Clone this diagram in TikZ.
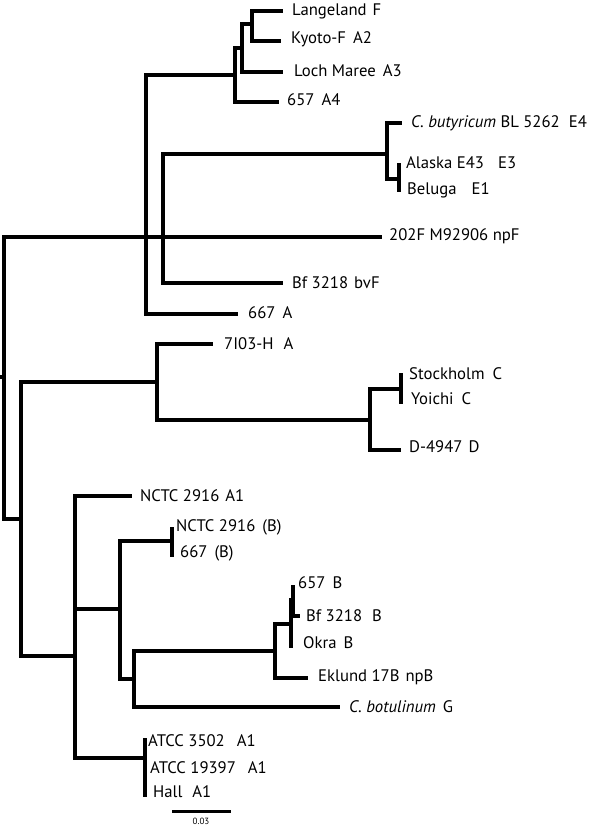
\documentclass[tikz,border=0pt]{standalone}
\usepackage{fontspec}
\setmainfont{PT Sans}
\newcommand\gp[1]{\hspace*{#1pt}}
\begin{document}
\begin{tikzpicture}[x=1pt,y=-1pt,
  br/.style={line width=3.2pt,line join=miter},
  lbl/.style={anchor=base west,inner sep=0pt,font=\fontsize{16.7}{18}\selectfont},
  sc/.style={anchor=base,inner sep=0pt,font=\fontsize{9}{10}\selectfont}]
\useasboundingbox (0,0) rectangle (600,825);
% internal nodes
\coordinate (r0) at (0,377);
\coordinate (R) at (4,377);
\coordinate (A) at (146,237);
\coordinate (a1) at (235,75);
\coordinate (a2) at (242,48);
\coordinate (a3) at (252,24);
\coordinate (E) at (163,237);
\coordinate (e1) at (387,154);
\coordinate (e2) at (399,179);
\coordinate (B) at (21,519);
\coordinate (CD) at (157,382);
\coordinate (cd1) at (370,420);
\coordinate (cd2) at (401,389);
\coordinate (F) at (75,656);
\coordinate (G) at (120,609);
\coordinate (g1) at (172,541);
\coordinate (H) at (134,679);
\coordinate (I) at (275,651);
\coordinate (J) at (291,624);
\coordinate (K) at (293,600);
\coordinate (at) at (145,758);
% tips
\coordinate (tLang) at (283,11);
\coordinate (tKyo) at (281,41);
\coordinate (tLoch) at (283,72);
\coordinate (t657A4) at (279,102);
\coordinate (tCbut) at (402,123);
\coordinate (tAla) at (399,163);
\coordinate (tBel) at (399,192);
\coordinate (t202) at (382,237);
\coordinate (tBfF) at (283,283);
\coordinate (t667A) at (238,314);
\coordinate (t7I03) at (213,344);
\coordinate (tSto) at (401,373);
\coordinate (tYoi) at (401,404);
\coordinate (tD) at (401,450);
\coordinate (tNA1) at (132,496);
\coordinate (tNB) at (172,527);
\coordinate (t667B) at (172,557);
\coordinate (t657B) at (293,585);
\coordinate (tBfB) at (300,616);
\coordinate (tOkra) at (291,648);
\coordinate (tEk) at (308,678);
\coordinate (tCbot) at (340,707);
\coordinate (tAT1) at (145,738);
\coordinate (tAT3) at (145,797);
\coordinate (s1) at (172,811);
\coordinate (s2) at (231,811);
% branches
\draw[br] (r0) -- (R);
\draw[br] (R) |- (A);
\draw[br] (R) |- (B);
\draw[br] (A) |- (a1);
\draw[br] (A) |- (E);
\draw[br] (A) |- (t667A);
\draw[br] (a1) |- (a2);
\draw[br] (a1) |- (t657A4);
\draw[br] (a2) |- (a3);
\draw[br] (a2) |- (tLoch);
\draw[br] (a3) |- (tLang);
\draw[br] (a3) |- (tKyo);
\draw[br] (E) |- (e1);
\draw[br] (E) |- (t202);
\draw[br] (E) |- (tBfF);
\draw[br] (e1) |- (tCbut);
\draw[br] (e1) |- (e2);
\draw[br] (e2) -- (tAla);
\draw[br] (e2) -- (tBel);
\draw[br] (B) |- (CD);
\draw[br] (B) |- (F);
\draw[br] (CD) |- (t7I03);
\draw[br] (CD) |- (cd1);
\draw[br] (cd1) |- (cd2);
\draw[br] (cd1) |- (tD);
\draw[br] (cd2) -- (tSto);
\draw[br] (cd2) -- (tYoi);
\draw[br] (F) |- (tNA1);
\draw[br] (F) |- (G);
\draw[br] (F) |- (at);
\draw[br] (at) -- (tAT1);
\draw[br] (at) -- (tAT3);
\draw[br] (G) |- (g1);
\draw[br] (G) |- (H);
\draw[br] (g1) -- (tNB);
\draw[br] (g1) -- (t667B);
\draw[br] (H) |- (I);
\draw[br] (H) |- (tCbot);
\draw[br] (I) |- (J);
\draw[br] (I) |- (tEk);
\draw[br] (J) |- (K);
\draw[br] (J) -- (tOkra);
\draw[br] (K) -- (t657B);
\draw[br] (K) |- (tBfB);
\draw[line width=3pt] (s1) -- (s2);
% labels
\node[lbl] (l1) at (292,15.5) {Langeland\gp{6}F};
\node[lbl] (l2) at (291,43.5) {Kyoto-F\gp{7}A2};
\node[lbl] (l3) at (294,76.5) {Loch Maree\gp{7}A3};
\node[lbl] (l4) at (287,105.5) {657\gp{7}A4};
\node[lbl] (l5) at (411,127.5) {\textit{C. butyricum} BL 5262\gp{9}E4};
\node[lbl] (l6) at (406,168.5) {Alaska E43\gp{14}E3};
\node[lbl] (l7) at (407,194.5) {Beluga\gp{15}E1};
\node[lbl] (l8) at (389,240.5) {202F M92906 npF};
\node[lbl] (l9) at (292,288.5) {Bf 3218\gp{6}bvF};
\node[lbl] (l10) at (248,318.5) {667\gp{7}A};
\node[lbl] (l11) at (224,349.5) {7I03-H\gp{10}A};
\node[lbl] (l12) at (409,379.5) {Stockholm\gp{8}C};
\node[lbl] (l13) at (411,404.5) {Yoichi\gp{8}C};
\node[lbl] (l14) at (409,452.5) {D-4947\gp{6}D};
\node[lbl] (l15) at (140,501.5) {NCTC 2916\gp{6}A1};
\node[lbl] (l16) at (176,531.5) {NCTC 2916\gp{7}(B)};
\node[lbl] (l17) at (180,557.5) {667\gp{7}(B)};
\node[lbl] (l18) at (298,588.5) {657\gp{7}B};
\node[lbl] (l19) at (306,621.5) {Bf 3218\gp{10}B};
\node[lbl] (l20) at (303,648.5) {Okra\gp{7}B};
\node[lbl] (l21) at (318,681.5) {Eklund 17B\gp{6}npB};
\node[lbl] (l22) at (349,712.5) {\textit{C. botulinum}\gp{7}G};
\node[lbl] (l23) at (148,746.5) {ATCC 3502\gp{12}A1};
\node[lbl] (l24) at (150,773.5) {ATCC 19397\gp{12}A1};
\node[lbl] (l25) at (153,797.5) {Hall\gp{10}A1};
\node[sc] (l26) at (201,824) {0.03};
\end{tikzpicture}
\end{document}
